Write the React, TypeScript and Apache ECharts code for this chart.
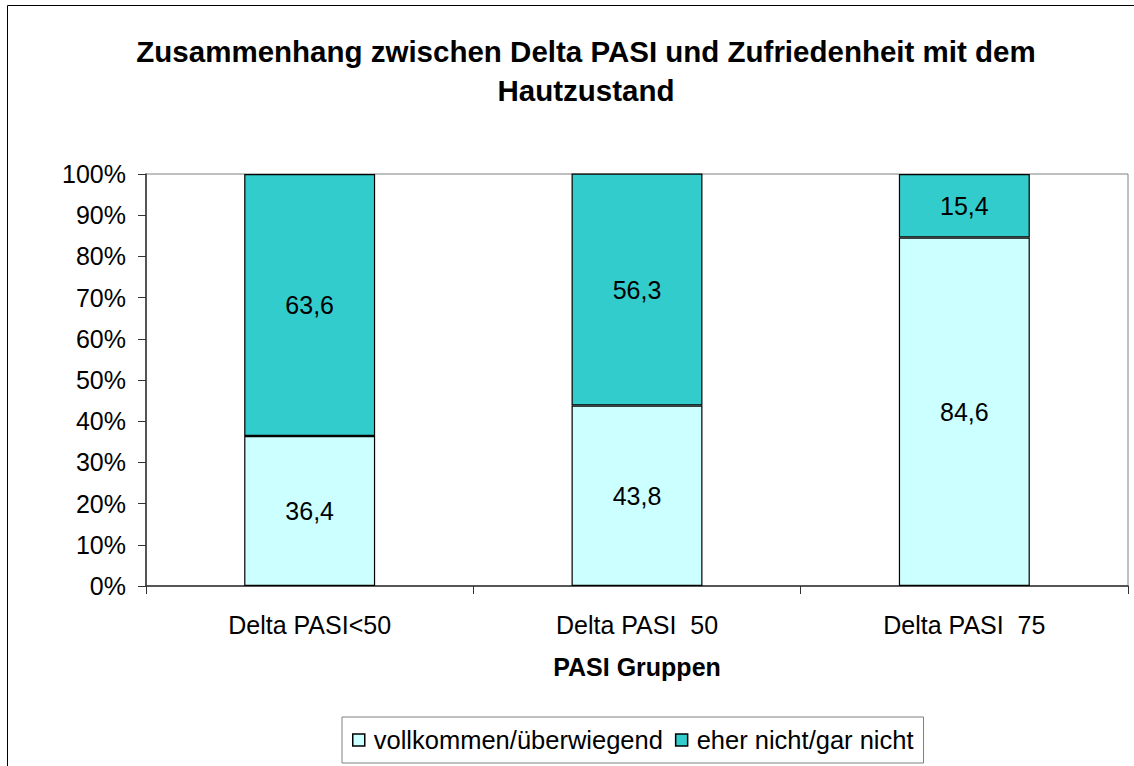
import React, { useEffect, useRef } from "react";
import * as echarts from "echarts";

const categories = ["Delta PASI<50", "Delta PASI  50", "Delta PASI  75"];
const seriesNames = ["vollkommen/überwiegend", "eher nicht/gar nicht"];
const vollkommen = [36.4, 43.8, 84.6];
const eherNicht = [63.6, 56.3, 15.4];
const yTicks = { min: 0, max: 100, interval: 10 };
const titleText = "Zusammenhang zwischen Delta PASI und Zufriedenheit mit dem\nHautzustand";
const xAxisName = "PASI Gruppen";

const FONT = "'Liberation Sans', Arial, sans-serif";

export default function App() {
  const ref = useRef<HTMLDivElement>(null);
  useEffect(() => {
    document.body.style.margin = "0";
    const chart = echarts.init(ref.current!, null, { renderer: "svg" });
    const fmt = (p: any) => String(p.value).replace(".", ",");
    const label = {
      show: true,
      position: "inside",
      color: "#000",
      fontSize: 25,
      fontFamily: FONT,
      formatter: fmt,
    };
    chart.setOption({
      animation: false,
      backgroundColor: "#fff",
      textStyle: { fontFamily: FONT },
      title: {
        text: titleText,
        left: 581,
        top: 27,
        textAlign: "center",
        textStyle: {
          fontSize: 29.5,
          fontWeight: "bold",
          color: "#000",
          fontFamily: FONT,
          lineHeight: 39,
        },
      },
      graphic: [
        {
          type: "rect",
          shape: { x: 7.5, y: 5.5, width: 1140, height: 800 },
          style: { fill: "none", stroke: "#000", lineWidth: 1 },
          silent: true,
          z: -10,
        },
      ],
      legend: {
        left: 342,
        top: 717,
        itemWidth: 12,
        itemHeight: 12,
        itemGap: 12,
        padding: [8, 10, 8, 10],
        borderColor: "#808080",
        borderWidth: 1,
        icon: "rect",
        textStyle: { fontSize: 25.5, color: "#000", fontFamily: FONT, lineHeight: 30, padding: [0, 0, 0, 4] },
        itemStyle: { borderColor: "#000", borderWidth: 1.5 },
        data: seriesNames,
      },
      grid: {
        left: 146,
        right: 6,
        top: 174,
        bottom: 180,
        show: true,
        borderColor: "#808080",
        borderWidth: 1,
        backgroundColor: "transparent",
      },
      xAxis: {
        type: "category",
        data: categories,
        boundaryGap: true,
        axisLine: { lineStyle: { color: "#333", width: 1.5 } },
        axisTick: { show: true, length: 8, lineStyle: { color: "#333" }, alignWithLabel: false },
        axisLabel: { color: "#000", fontSize: 25, fontFamily: FONT, margin: 26 },
        name: xAxisName,
        nameLocation: "middle",
        nameGap: 68,
        nameTextStyle: { fontSize: 25, fontWeight: "bold", color: "#000", fontFamily: FONT },
      },
      yAxis: {
        type: "value",
        min: yTicks.min,
        max: yTicks.max,
        interval: yTicks.interval,
        axisLine: { show: true, lineStyle: { color: "#333", width: 1.5 } },
        axisTick: { show: true, length: 8, lineStyle: { color: "#333" } },
        splitLine: { show: false },
        axisLabel: {
          color: "#000",
          fontSize: 25,
          fontFamily: FONT,
          margin: 20,
          formatter: "{value}%",
        },
      },
      series: [
        {
          name: seriesNames[0],
          type: "bar",
          stack: "total",
          data: vollkommen,
          barWidth: "40%",
          itemStyle: { color: "#CCFFFF", borderColor: "#000", borderWidth: 1.2 },
          label,
        },
        {
          name: seriesNames[1],
          type: "bar",
          stack: "total",
          data: eherNicht,
          barWidth: "40%",
          itemStyle: { color: "#33CCCC", borderColor: "#000", borderWidth: 1.2 },
          label,
        },
      ],
    });
    return () => chart.dispose();
  }, []);
  return <div ref={ref} style={{ width: 1134, height: 766 }} />;
}
